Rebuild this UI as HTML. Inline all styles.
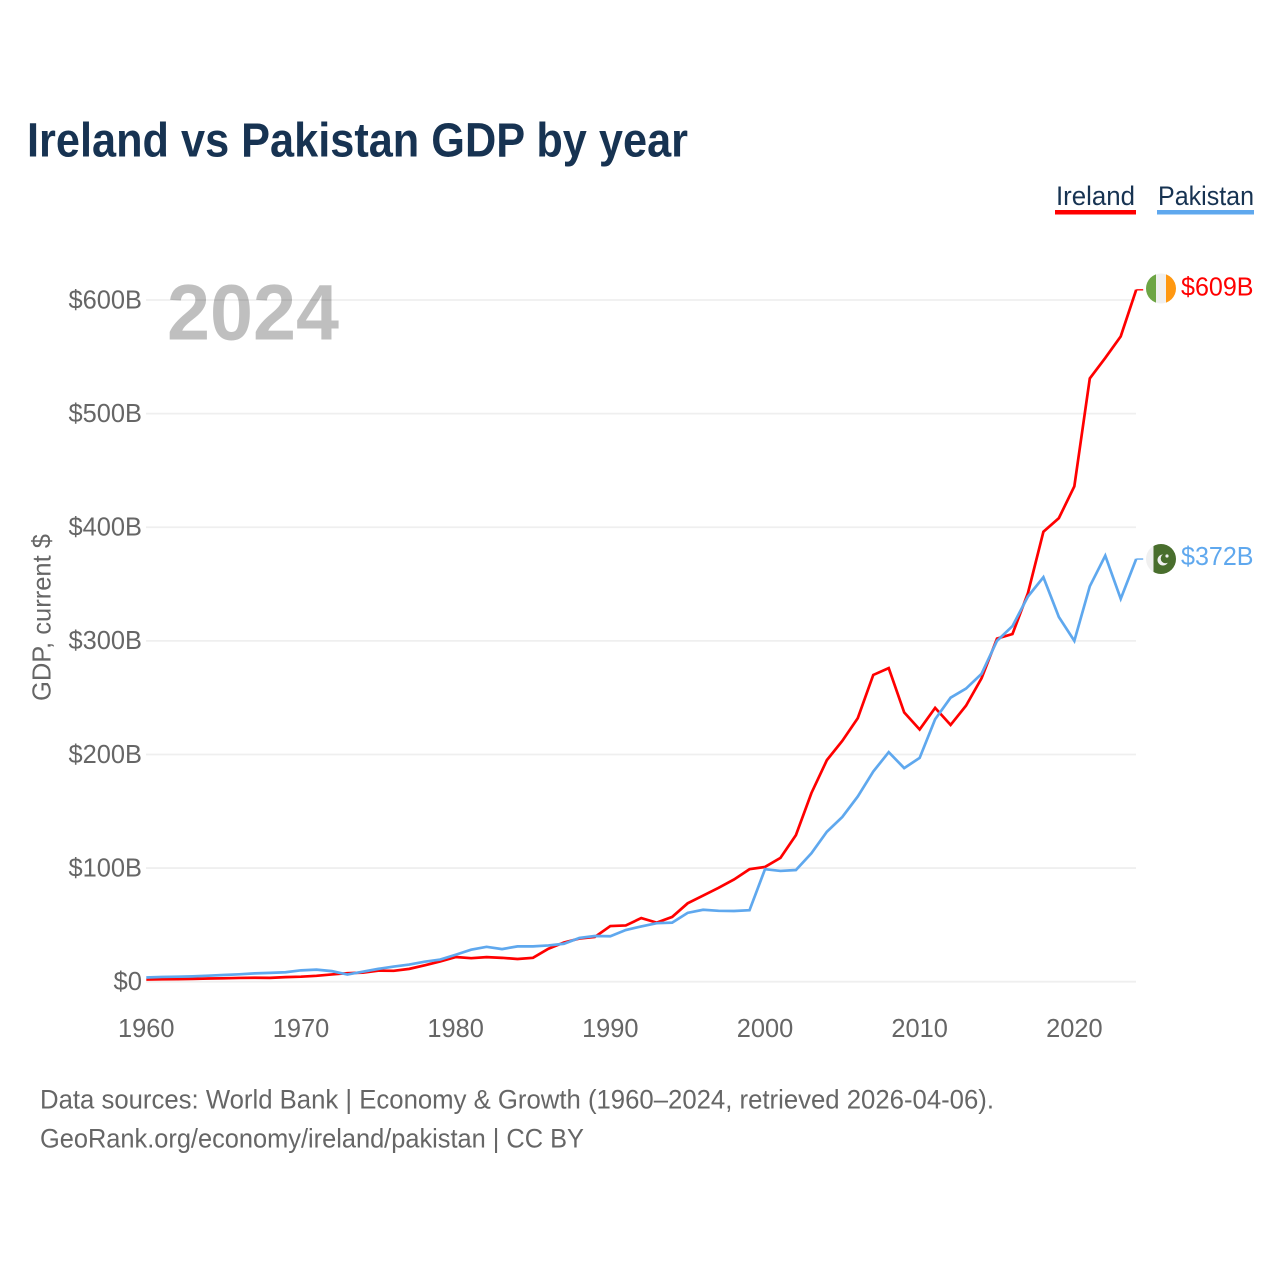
<!DOCTYPE html>
<html lang="en">
<head>
<meta charset="utf-8">
<title>Ireland vs Pakistan GDP by year</title>
<style>
html,body{margin:0;padding:0;background:#fff;width:1280px;height:1280px;overflow:hidden}
svg{display:block}
text{font-family:"Liberation Sans",sans-serif}
</style>
</head>
<body>
<svg id="chart" xmlns="http://www.w3.org/2000/svg" width="1280" height="1280" viewBox="0 0 1280 1280">
  <defs>
    <clipPath id="clip-flag-ireland"><circle cx="1161" cy="288.5" r="15"/></clipPath>
    <clipPath id="clip-flag-pakistan"><circle cx="1161" cy="559" r="15"/></clipPath>
  </defs>
  <rect width="1280" height="1280" fill="#fff"/>
  <text x="27" y="156.5" font-size="48" font-weight="700" fill="#173352" textLength="661" lengthAdjust="spacingAndGlyphs">Ireland vs Pakistan GDP by year</text>

  <g>
    <g>
      <text x="1056" y="205" font-size="27" fill="#173352" textLength="79" lengthAdjust="spacingAndGlyphs">Ireland</text>
      <rect x="1055" y="210" width="81" height="4.5" fill="#ff0000"/>
    </g>
    <g>
      <text x="1158" y="205" font-size="27" fill="#173352" textLength="96" lengthAdjust="spacingAndGlyphs">Pakistan</text>
      <rect x="1157" y="210" width="97" height="4.5" fill="#5fa8ee"/>
    </g>
  </g>

  <g id="grid"></g>
  <text x="167" y="339.5" font-size="79" font-weight="700" fill="#000" fill-opacity="0.25" textLength="172" lengthAdjust="spacingAndGlyphs">2024</text>
  <g id="y-ticks"></g>
  <g id="x-ticks"></g>
  <text transform="translate(50.5,617.5) rotate(-90)" text-anchor="middle" font-size="26" fill="#666" textLength="167" lengthAdjust="spacingAndGlyphs">GDP, current $</text>
  <g id="series"></g>

  <g clip-path="url(#clip-flag-ireland)">
    <rect x="1146" y="273" width="10" height="31" fill="#6da544"/>
    <rect x="1156" y="273" width="10" height="31" fill="#f0f0f0"/>
    <rect x="1166" y="273" width="10" height="31" fill="#ff9811"/>
  </g>
  <g clip-path="url(#clip-flag-pakistan)">
    <rect x="1146" y="544" width="8" height="30" fill="#f0f0f0"/>
    <rect x="1153.5" y="544" width="23" height="30" fill="#496e2d"/>
    <circle cx="1163" cy="560" r="5.5" fill="#f0f0f0"/>
    <circle cx="1165.5" cy="558.5" r="4.8" fill="#496e2d"/>
    <circle cx="1167" cy="556" r="1.6" fill="#f0f0f0"/>
  </g>
  <g id="end-labels"></g>

  <text x="40" y="1108.5" font-size="27" fill="#666" textLength="954" lengthAdjust="spacingAndGlyphs">Data sources: World Bank | Economy &amp; Growth (1960–2024, retrieved 2026-04-06).</text>
  <text x="40" y="1147.5" font-size="27" fill="#666" textLength="544" lengthAdjust="spacingAndGlyphs">GeoRank.org/economy/ireland/pakistan | CC BY</text>
</svg>
<script>
const years = [1960,1961,1962,1963,1964,1965,1966,1967,1968,1969,1970,1971,1972,1973,1974,1975,1976,1977,1978,1979,1980,1981,1982,1983,1984,1985,1986,1987,1988,1989,1990,1991,1992,1993,1994,1995,1996,1997,1998,1999,2000,2001,2002,2003,2004,2005,2006,2007,2008,2009,2010,2011,2012,2013,2014,2015,2016,2017,2018,2019,2020,2021,2022,2023,2024];
const irelandValues = [1.9,2.1,2.3,2.5,2.8,3.0,3.3,3.5,3.4,4.0,4.4,5.2,6.4,7.5,8.0,9.7,9.6,11.3,14.4,17.8,21.7,20.7,21.6,21.0,20.0,21.0,29.0,34.5,38.0,39.4,49.0,49.5,56.0,52.0,57.0,69.0,75.8,82.6,90.0,99.0,101.0,109.0,129.0,166.0,195.0,212.0,232.0,270.0,276.0,237.0,222.0,241.0,226.0,243.0,267.0,302.0,306.0,342.0,396.0,408.0,436.0,531.0,549.0,568.0,609.0];
const pakistanValues = [3.7,4.2,4.4,4.7,5.3,5.9,6.5,7.3,7.8,8.3,10.0,10.6,9.3,6.3,8.8,11.3,13.3,15.1,17.6,19.5,23.7,28.2,30.7,28.7,31.1,31.1,31.9,33.4,38.5,40.2,40.0,45.5,48.6,51.5,52.0,60.6,63.3,62.4,62.2,62.9,99.0,97.5,98.3,113.0,132.0,145.0,163.0,185.0,202.0,188.0,197.0,231.0,250.0,258.0,271.0,300.0,313.0,339.0,356.0,321.0,300.0,348.0,375.0,337.0,372.0];
const yTickValues = [0,100,200,300,400,500,600];
const yTickLabels = ["$0","$100B","$200B","$300B","$400B","$500B","$600B"];
const xTickValues = [1960,1970,1980,1990,2000,2010,2020];

const NS = "http://www.w3.org/2000/svg";
const xScale = function (year) { return 146.3 + (year - 1960) * (1136.2 - 146.3) / 64; };
const yScale = function (value) { return 981.7 - value * (981.7 - 300) / 600; };

function make(tag, parentId, attrs, text) {
  const node = document.createElementNS(NS, tag);
  Object.keys(attrs).forEach(function (key) { node.setAttribute(key, attrs[key]); });
  if (text !== undefined) node.textContent = text;
  document.getElementById(parentId).appendChild(node);
  return node;
}

yTickValues.forEach(function (value, i) {
  const y = yScale(value);
  const line = make("line", "grid", {x1: 146, x2: 1136, y1: y, y2: y, stroke: "#efefef", "stroke-width": 1.8});
  
  
  const label = make("text", "y-ticks", {x: 142, y: y + 8.3, "text-anchor": "end", "font-size": 26, fill: "#666", textLength: yTickLabels[i].length === 2 ? 28.5 : 73.5, lengthAdjust: "spacingAndGlyphs"}, yTickLabels[i]);
  
  
});

xTickValues.forEach(function (year) {
  const label = make("text", "x-ticks", {x: xScale(year), y: 1037, "text-anchor": "middle", "font-size": 26, fill: "#666", textLength: 56.5, lengthAdjust: "spacingAndGlyphs"}, String(year));
  
  
});

function drawSeries(values, color) {
  const last = values[values.length - 1];
  const lastYear = years[years.length - 1];
  const d = values.map(function (v, i) {
    return (i ? "L" : "M") + xScale(years[i]).toFixed(2) + " " + yScale(v).toFixed(2);
  }).join(" ");
  const path = make("path", "series", {d: d, fill: "none", stroke: color, "stroke-width": 2.7, "stroke-linejoin": "miter"});
  
  
  const stub = make("line", "series", {x1: xScale(lastYear), x2: xScale(lastYear) + 7, y1: yScale(last), y2: yScale(last), stroke: color, "stroke-width": 1.6, "stroke-opacity": 0.85});
  
  
  const label = make("text", "end-labels", {x: 1181, y: yScale(last) + 5.8, "font-size": 26, fill: color, textLength: 72.5, lengthAdjust: "spacingAndGlyphs"}, "$" + Math.round(last) + "B");
  
  
}
drawSeries(irelandValues, "#ff0000");
drawSeries(pakistanValues, "#5fa8ee");
</script>
</body>
</html>
